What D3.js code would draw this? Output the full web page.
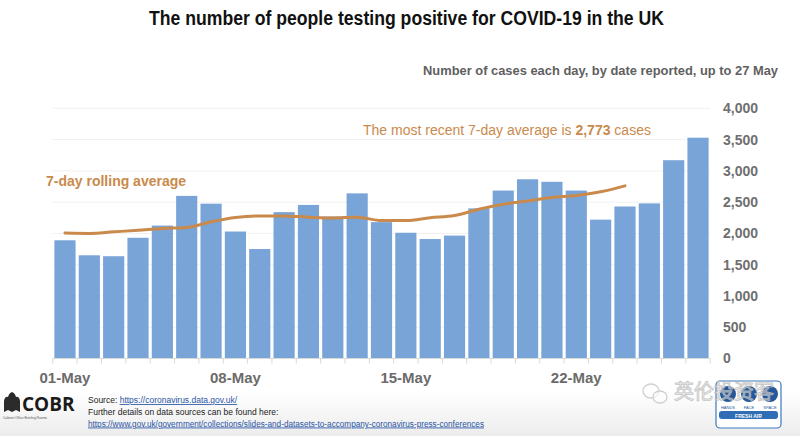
<!DOCTYPE html>
<html>
<head>
<meta charset="utf-8">
<script src="https://cdn.jsdelivr.net/npm/d3@7"></script>
<style>
  body { margin: 0; background: #fff; }
  svg { display: block; }
</style>
</head>
<body>
<script>
// daily cases, 01-May .. 27-May
var days = ['01-May','02-May','03-May','04-May','05-May','06-May','07-May','08-May','09-May',
            '10-May','11-May','12-May','13-May','14-May','15-May','16-May','17-May','18-May',
            '19-May','20-May','21-May','22-May','23-May','24-May','25-May','26-May','27-May'];
var cases = [1890, 1650, 1635, 1930, 2125, 2600, 2475, 2030, 1750, 2340, 2455, 2270, 2640, 2180,
             2010, 1910, 1965, 2400, 2685, 2865, 2825, 2685, 2220, 2430, 2480, 3170, 3530];
// 7-day rolling average, only up to 24-May
var rollingAvg = [2005, 2000, 2025, 2050, 2080, 2095, 2185, 2255, 2280, 2280, 2260, 2245, 2260,
                  2205, 2205, 2250, 2285, 2385, 2465, 2520, 2575, 2605, 2665, 2760];
var tickLabels = ['01-May', '08-May', '15-May', '22-May'];
var yTicks = [0, 500, 1000, 1500, 2000, 2500, 3000, 3500, 4000];

var W = 800, H = 436,
    narrow = '"Liberation Sans Narrow", "Arial Narrow", "Liberation Sans", sans-serif',
    sans = '"Liberation Sans", Arial, sans-serif',
    orange = '#c98a4b',
    barColor = '#79a4d7';

var svg = d3.select('body').append('svg')
    .attr('width', W)
    .attr('height', H);

// faint shading at the foot of the slide
var grad = svg.append('defs').append('linearGradient')
    .attr('id', 'foot')
    .attr('x1', 0).attr('y1', 0).attr('x2', 0).attr('y2', 1);
grad.append('stop').attr('offset', '0%').attr('stop-color', '#fff');
grad.append('stop').attr('offset', '100%').attr('stop-color', '#ececec');
svg.append('rect')
    .attr('x', 0).attr('y', 392).attr('width', W).attr('height', H - 392)
    .attr('fill', 'url(#foot)');

var xScale = d3.scaleBand()
    .domain(days)
    .range([52.8, 710.2])
    .paddingInner(0.13)
    .paddingOuter(0.065);

var yScale = d3.scaleLinear()
    .domain([0, 4000])
    .range([358.5, 108.3]);

var chart = svg.append('g');

// gridlines
chart.append('g')
    .selectAll('line')
    .data(yTicks.slice(1))
    .enter()
    .append('line')
    .attr('x1', 52.8)
    .attr('x2', 710.2)
    .attr('y1', function(d) { return yScale(d); })
    .attr('y2', function(d) { return yScale(d); })
    .style('stroke', '#f1f1f1')
    .style('stroke-width', 1);

// bars
chart.append('g')
    .selectAll('rect')
    .data(cases)
    .enter()
    .append('rect')
    .attr('x', function(d, i) { return xScale(days[i]); })
    .attr('width', xScale.bandwidth())
    .attr('y', function(d) { return yScale(d); })
    .attr('height', function(d) { return yScale(0) - yScale(d); })
    .style('fill', barColor);

// x axis: ticks between every day, labels once a week
var step = xScale.step();
var xAxis = chart.append('g')
    .attr('transform', 'translate(0,' + yScale(0) + ')');
xAxis.append('line')
    .attr('x1', 52.8).attr('x2', 710.2)
    .style('stroke', '#d9d9d9')
    .style('stroke-width', 1.2);
xAxis.selectAll('line.tick')
    .data(d3.range(days.length + 1))
    .enter()
    .append('line')
    .attr('class', 'tick')
    .attr('x1', function(i) { return 52.8 + i * step; })
    .attr('x2', function(i) { return 52.8 + i * step; })
    .attr('y1', 0)
    .attr('y2', 5)
    .style('stroke', '#d9d9d9');
xAxis.selectAll('text')
    .data(tickLabels)
    .enter()
    .append('text')
    .attr('x', function(d) { return xScale(d) + xScale.bandwidth() / 2; })
    .attr('y', 24)
    .text(function(d) { return d; })
    .style('font-family', sans)
    .style('font-weight', 'bold')
    .style('font-size', '15px')
    .style('fill', '#6b6b6b')
    .style('text-anchor', 'middle');

// y axis on the right
var yAxis = d3.axisRight(yScale)
    .tickValues(yTicks)
    .tickFormat(d3.format(','))
    .tickSize(0)
    .tickPadding(0);
var yg = chart.append('g')
    .attr('transform', 'translate(723,0)')
    .call(yAxis);
yg.select('.domain').remove();
yg.selectAll('text')
    .style('font-family', sans)
    .style('font-weight', 'bold')
    .style('font-size', '14px')
    .style('fill', '#6f6f6f');

// rolling average line
var line = d3.line()
    .x(function(d, i) { return xScale(days[i]) + xScale.bandwidth() / 2; })
    .y(function(d) { return yScale(d); })
    .curve(d3.curveMonotoneX);
chart.append('path')
    .datum(rollingAvg)
    .attr('d', line)
    .style('fill', 'none')
    .style('stroke', orange)
    .style('stroke-width', 3)
    .style('stroke-linecap', 'round');

// annotations
var note = svg.append('text')
    .attr('x', 363)
    .attr('y', 135)
    .style('font-family', sans)
    .style('font-size', '14px')
    .style('fill', orange);
note.append('tspan').text('The most recent 7-day average is ');
note.append('tspan').style('font-weight', 'bold').text('2,773');
note.append('tspan').text(' cases');

svg.append('text')
    .attr('x', 46)
    .attr('y', 186)
    .text('7-day rolling average')
    .style('font-family', sans)
    .style('font-weight', 'bold')
    .style('font-size', '14px')
    .style('fill', orange);

// titles (condensed face in the original, so squeeze to its width)
svg.append('text')
    .attr('x', 149)
    .attr('y', 25)
    .attr('textLength', 515)
    .attr('lengthAdjust', 'spacingAndGlyphs')
    .text('The number of people testing positive for COVID-19 in the UK')
    .style('font-family', narrow)
    .style('font-weight', 'bold')
    .style('font-size', '20px')
    .style('fill', '#111');

svg.append('text')
    .attr('x', 423)
    .attr('y', 75)
    .attr('textLength', 355)
    .attr('lengthAdjust', 'spacingAndGlyphs')
    .text('Number of cases each day, by date reported, up to 27 May')
    .style('font-family', narrow)
    .style('font-weight', 'bold')
    .style('font-size', '13.5px')
    .style('fill', '#5f5f5f');

// footer: COBR block
var cobr = svg.append('g');
cobr.append('path')
    .attr('d', 'M4 412 L4 401 Q5 396 8 397 Q9 393 12 392 Q15 393 16 397 Q19 396 20 401 L20 412 L16 410 L12 412 L8 410 Z')
    .style('fill', '#2b2b2b');
cobr.append('text')
    .attr('x', 22).attr('y', 411)
    .text('COBR')
    .style('font-family', '"Open Sans", sans-serif')
    .style('font-weight', 'bold')
    .style('font-size', '19px')
    .style('fill', '#1b1b1b');
cobr.append('text')
    .attr('x', 3).attr('y', 419)
    .attr('textLength', 44)
    .attr('lengthAdjust', 'spacingAndGlyphs')
    .text('Cabinet Office Briefing Rooms')
    .style('font-family', sans)
    .style('font-size', '3.5px')
    .style('fill', '#555');

// footer: sources
var foot = svg.append('g')
    .style('font-family', narrow)
    .style('font-size', '8.5px')
    .style('fill', '#222');
var src = foot.append('text').attr('x', 88).attr('y', 403);
src.append('tspan').text('Source: ');
src.append('tspan')
    .text('https://coronavirus.data.gov.uk/')
    .style('fill', '#2a55a5')
    .style('text-decoration', 'underline');
foot.append('text')
    .attr('x', 88).attr('y', 414.5)
    .text('Further details on data sources can be found here:');
foot.append('text')
    .attr('x', 88).attr('y', 426.5)
    .attr('textLength', 396)
    .attr('lengthAdjust', 'spacingAndGlyphs')
    .text('https://www.gov.uk/government/collections/slides-and-datasets-to-accompany-coronavirus-press-conferences')
    .style('fill', '#2a55a5')
    .style('text-decoration', 'underline');

// footer: hands face space badge
var badgeItems = ['HANDS', 'FACE', 'SPACE'];
var badge = svg.append('g');
badge.append('rect')
    .attr('x', 716).attr('y', 381).attr('width', 65).attr('height', 47).attr('rx', 4)
    .style('fill', '#fff')
    .style('stroke', '#3b78bd')
    .style('stroke-width', 1.2);
badge.selectAll('circle')
    .data(badgeItems)
    .enter()
    .append('circle')
    .attr('cx', function(d, i) { return 728 + i * 21; })
    .attr('cy', 394)
    .attr('r', 8)
    .style('fill', '#24589a');
badge.selectAll('text.lbl')
    .data(badgeItems)
    .enter()
    .append('text')
    .attr('class', 'lbl')
    .attr('x', function(d, i) { return 728 + i * 21; })
    .attr('y', 408.5)
    .text(function(d) { return d; })
    .style('font-family', sans)
    .style('font-size', '4px')
    .style('fill', '#24589a')
    .style('text-anchor', 'middle');
badge.append('rect')
    .attr('x', 719).attr('y', 411).attr('width', 59).attr('height', 8).attr('rx', 3)
    .style('fill', '#2f6db5');
badge.append('text')
    .attr('x', 748.5).attr('y', 417.5)
    .text('FRESH AIR')
    .style('font-family', sans)
    .style('font-weight', 'bold')
    .style('font-size', '5px')
    .style('fill', '#fff')
    .style('text-anchor', 'middle');

// watermark
var wm = svg.append('g').style('opacity', 0.85);
wm.append('ellipse')
    .attr('cx', 651).attr('cy', 391).attr('rx', 8).attr('ry', 7)
    .style('fill', 'none').style('stroke', '#c8c8c8').style('stroke-width', 1.3);
wm.append('ellipse')
    .attr('cx', 660).attr('cy', 397).attr('rx', 7).attr('ry', 6)
    .style('fill', 'rgba(255,255,255,0.6)').style('stroke', '#c8c8c8').style('stroke-width', 1.3);
wm.append('text')
    .attr('x', 674).attr('y', 399)
    .text('英伦投资客')
    .style('font-family', '"Noto Sans CJK SC", sans-serif')
    .style('font-size', '20px')
    .style('fill', 'rgba(255,255,255,0.55)')
    .style('stroke', '#bdbdbd')
    .style('stroke-width', 0.9);
</script>
</body>
</html>
